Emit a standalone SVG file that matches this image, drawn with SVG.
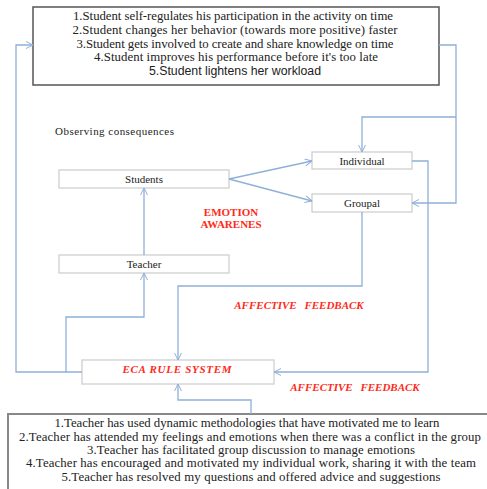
<svg xmlns="http://www.w3.org/2000/svg" width="487" height="489" viewBox="0 0 487 489">
  <style>
    .serif { font-family: "Liberation Serif", "Times New Roman", serif; fill: #222; }
    .list { font-size: 12.8px; text-anchor: middle; }
    .node { fill: #fff; stroke: #cfcfcf; stroke-width: 1.3; }
    .label { font-size: 11px; text-anchor: middle; }
    .red { fill: #ff2a1a; font-weight: bold; font-size: 11px; text-anchor: middle; }
    .conn { fill: none; stroke: #8fb0d8; stroke-width: 1.3; }
  </style>
  <defs>
    <marker id="arrow" viewBox="0 0 8 8" refX="7.5" refY="4" markerWidth="8" markerHeight="8" markerUnits="userSpaceOnUse" orient="auto">
      <path d="M0.5,0.5 L7.5,4 L0.5,7.5" fill="none" stroke="#8fb0d8" stroke-width="1"/>
    </marker>
  </defs>

  <rect width="487" height="489" fill="#fff"/>

  <!-- student outcomes -->
  <g id="student-outcomes">
    <rect x="33" y="7" width="406" height="78" fill="#fff" stroke="#555" stroke-width="1.5"/>
    <text class="serif list" x="233" y="20" textLength="320" lengthAdjust="spacing">1.Student self-regulates his participation in the activity on time</text>
    <text class="serif list" x="235" y="34" textLength="325" lengthAdjust="spacing">2.Student changes her behavior (towards more positive) faster</text>
    <text class="serif list" x="235" y="48" textLength="317" lengthAdjust="spacing">3.Student gets involved to create and share knowledge on time</text>
    <text class="serif list" x="236" y="61" textLength="284" lengthAdjust="spacing">4.Student improves his performance before it's too late</text>
    <text x="235" y="75" font-family="Liberation Sans, Arial, sans-serif" font-size="12.3" text-anchor="middle" fill="#222" textLength="172" lengthAdjust="spacing">5.Student lightens her workload</text>
  </g>

  <g id="observing-label">
    <text class="serif" x="55" y="135" font-size="11" textLength="119" lengthAdjust="spacing">Observing  consequences</text>
  </g>

  <g id="students">
    <rect class="node" x="59" y="170" width="170" height="18"/>
    <text class="serif label" x="144" y="183">Students</text>
  </g>

  <g id="teacher">
    <rect class="node" x="59" y="255" width="170" height="18"/>
    <text class="serif label" x="144" y="268">Teacher</text>
  </g>

  <g id="individual">
    <rect class="node" x="312" y="152" width="100" height="17"/>
    <text class="serif label" x="362" y="165">Individual</text>
  </g>

  <g id="groupal">
    <rect class="node" x="312" y="194" width="100" height="18"/>
    <text class="serif label" x="362" y="207">Groupal</text>
  </g>

  <g id="emotion-awareness">
    <text class="serif red" x="231" y="216">EMOTION</text>
    <text class="serif red" x="231" y="228">AWARENES</text>
  </g>

  <g id="eca-rule-system">
    <rect class="node" x="82" y="360" width="192" height="24"/>
    <text class="serif red" x="177" y="373" font-style="italic" textLength="109" lengthAdjust="spacing">ECA RULE SYSTEM</text>
  </g>

  <g id="feedback-labels">
    <text class="serif red" x="299" y="309" font-style="italic" word-spacing="5">AFFECTIVE FEEDBACK</text>
    <text class="serif red" x="355" y="391" font-style="italic" word-spacing="5">AFFECTIVE FEEDBACK</text>
  </g>

  <!-- teacher behaviours -->
  <g id="teacher-behaviours">
    <path d="M8,489 L8,414 L490,414" fill="none" stroke="#888" stroke-width="2"/>
    <text class="serif list" x="247" y="427" font-size="13" textLength="385" lengthAdjust="spacing">1.Teacher has used dynamic methodologies that have motivated me to learn</text>
    <text class="serif list" x="250" y="441" font-size="13" textLength="462" lengthAdjust="spacing">2.Teacher has attended my feelings and emotions when there was a conflict in the group</text>
    <text class="serif list" x="251" y="454" font-size="13" textLength="328" lengthAdjust="spacing">3.Teacher has facilitated  group discussion to manage emotions</text>
    <text class="serif list" x="251" y="467" font-size="13" textLength="450" lengthAdjust="spacing">4.Teacher has encouraged and motivated my individual  work, sharing it with the team</text>
    <text class="serif list" x="251" y="481" font-size="13" textLength="379" lengthAdjust="spacing">5.Teacher has resolved my questions and offered advice and suggestions</text>
  </g>

  <g id="connectors">
    <path class="conn" d="M82,372 L16,372 L16,45 L33,45" marker-end="url(#arrow)"/>
    <path class="conn" d="M66,372 L66,317 L144,317 L144,273" marker-end="url(#arrow)"/>
    <path class="conn" d="M144,255 L144,188" marker-end="url(#arrow)"/>
    <path class="conn" d="M229,179 L312,161" marker-end="url(#arrow)"/>
    <path class="conn" d="M229,179 L312,201" marker-end="url(#arrow)"/>
    <path class="conn" d="M439,45 L456,45 L456,203 L412,203" marker-end="url(#arrow)"/>
    <path class="conn" d="M456,117 L362,117 L362,152" marker-end="url(#arrow)"/>
    <path class="conn" d="M412,161 L428,161 L428,372 L274,372" marker-end="url(#arrow)"/>
    <path class="conn" d="M362,212 L362,286 L178,286 L178,360" marker-end="url(#arrow)"/>
    <path class="conn" d="M251,414 L251,400 L178,400 L178,384" marker-end="url(#arrow)"/>
  </g>
</svg>
